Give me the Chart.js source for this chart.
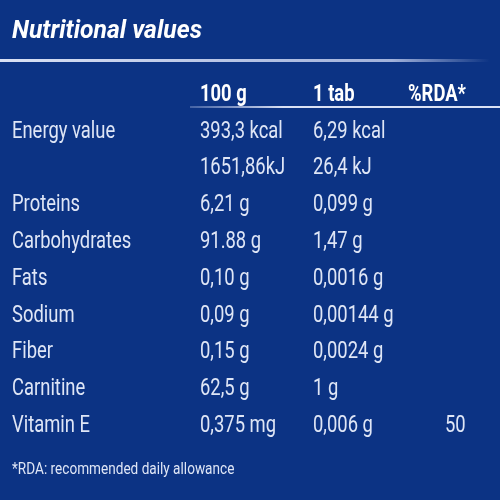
<!DOCTYPE html>
<html><head><meta charset="utf-8">
<script src="https://cdn.jsdelivr.net/npm/chart.js@4/dist/chart.umd.min.js"></script>
<style>html,body{margin:0;padding:0;background:#0c3384}#w{width:500px;height:500px}</style>
</head><body><div id="w"><canvas id="c"></canvas></div>
<script>
const title = "Nutritional values";
const headers = ["100 g", "1 tab", "%RDA*"];
const nutrients = ["Energy value", "", "Proteins", "Carbohydrates", "Fats", "Sodium", "Fiber", "Carnitine", "Vitamin E"];
const per100g = ["393,3 kcal", "1651,86kJ", "6,21 g", "91.88 g", "0,10 g", "0,09 g", "0,15 g", "62,5 g", "0,375 mg"];
const perTab = ["6,29 kcal", "26,4 kJ", "0,099 g", "1,47 g", "0,0016 g", "0,00144 g", "0,0024 g", "1 g", "0,006 g"];
const rda = ["", "", "", "", "", "", "", "", "50"];
const footnote = "*RDA: recommended daily allowance";

const cells = [];
nutrients.forEach((n, i) => {
  [n, per100g[i], perTab[i], rda[i]].forEach((t, j) => { if (t) cells.push({x: j, y: i + 1, t}); });
});
headers.forEach((h, j) => cells.push({x: j + 1, y: 0, t: h, bold: true}));

const COLX = [12, 200, 313, 408];
const RDAX = 445;
const tablePlugin = {
  id: 'table',
  afterDatasetsDraw(chart) {
    const ctx = chart.ctx;
    ctx.save();
    ctx.fillStyle = '#ffffff';
    ctx.textBaseline = 'middle';
    ctx.save(); ctx.translate(12, 31); ctx.scale(0.95, 1);
    ctx.font = 'italic bold 26px Roboto';
    ctx.fillText(title, 0, 0); ctx.restore();
    let g = ctx.createLinearGradient(0, 0, 490, 0);
    g.addColorStop(0, 'rgba(230,235,250,0.95)');
    g.addColorStop(0.8, 'rgba(200,210,240,0.8)');
    g.addColorStop(1, 'rgba(200,210,240,0)');
    ctx.fillStyle = g; ctx.fillRect(0, 59, 490, 3);
    g = ctx.createLinearGradient(190, 0, 500, 0);
    g.addColorStop(0, 'rgba(200,210,240,0.3)');
    g.addColorStop(0.3, 'rgba(230,235,250,0.95)');
    g.addColorStop(1, 'rgba(230,235,250,0.95)');
    ctx.fillStyle = g; ctx.fillRect(190, 106, 310, 2);
    const pts = chart.getDatasetMeta(0).data;
    pts.forEach((p, k) => {
      const c = cells[k];
      ctx.save();
      ctx.translate(p.x, p.y);
      ctx.scale(0.8, 1);
      ctx.fillStyle = c.bold ? '#ffffff' : '#dfe6f6';
      ctx.font = (c.bold ? 'bold 23px' : '23px') + ' Roboto';
      ctx.fillText(c.t, 0, 0);
      ctx.restore();
    });
    ctx.fillStyle = '#dfe6f6';
    ctx.save(); ctx.translate(12, 470); ctx.scale(0.85, 1);
    ctx.font = '16px Roboto'; ctx.fillText(footnote, 0, 0); ctx.restore();
    ctx.restore();
  }
};

new Chart(document.getElementById('c'), {
  type: 'scatter',
  data: { datasets: [{ data: cells.map(c => ({x: (c.x === 3 && c.y > 0) ? RDAX : COLX[c.x], y: c.y})), pointRadius: 0 }] },
  options: {
    responsive: true, maintainAspectRatio: false, animation: false,
    layout: { padding: 0 },
    plugins: { legend: { display: false }, tooltip: { enabled: false } },
    scales: {
      x: { type: 'linear', min: 0, max: 500, display: false },
      y: { type: 'linear', min: -95/36.8, max: (500-95)/36.8, reverse: true, display: false }
    }
  },
  plugins: [tablePlugin]
});
</script></body></html>
